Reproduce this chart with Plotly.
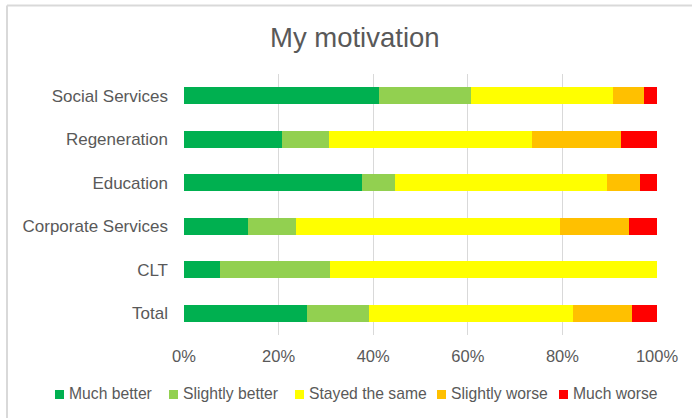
import plotly.graph_objects as go

categories = ["Social Services", "Regeneration", "Education", "Corporate Services", "CLT", "Total"]
much_better = [41.3, 20.8, 37.7, 13.5, 7.7, 26.1]
slightly_better = [19.3, 9.8, 7.0, 10.1, 23.1, 13.1]
stayed_same = [30.2, 43.0, 44.8, 55.9, 69.2, 43.1]
slightly_worse = [6.4, 18.7, 7.0, 14.6, 0.0, 12.5]
much_worse = [2.8, 7.7, 3.5, 5.9, 0.0, 5.2]

series_names = ["Much better", "Slightly better", "Stayed the same", "Slightly worse", "Much worse"]
series_values = [much_better, slightly_better, stayed_same, slightly_worse, much_worse]
series_colors = ["#00b050", "#92d050", "#ffff00", "#ffc000", "#ff0000"]

font_family = "Liberation Sans, Arial, sans-serif"
W, H = 693, 418
ml, mr, mt, mb = 184, 36, 74, 83
pw, ph = W - ml - mr, H - mt - mb


def px_x(x):
    return (x - ml) / pw


def px_y(y):
    return (H - mb - y) / ph


fig = go.Figure()
for name, vals, col in zip(series_names, series_values, series_colors):
    fig.add_trace(go.Bar(
        y=categories, x=[v / 100 for v in vals], name=name, orientation="h",
        marker=dict(color=col, line=dict(width=0)), showlegend=False,
    ))

# custom one-row legend (Excel style: small square + label)
legend_marker_x = [55, 169, 295, 437, 559]
shapes = [
    dict(type="line", xref="paper", yref="paper", x0=px_x(7), x1=px_x(7),
         y0=px_y(430), y1=px_y(5.5), line=dict(color="#d9d9d9", width=2)),
    dict(type="line", xref="paper", yref="paper", x0=px_x(7), x1=px_x(692),
         y0=px_y(5.5), y1=px_y(5.5), line=dict(color="#d9d9d9", width=2)),
]
annotations = []
for name, col, mx in zip(series_names, series_colors, legend_marker_x):
    shapes.append(dict(type="rect", xref="paper", yref="paper",
                       x0=px_x(mx), x1=px_x(mx + 9), y0=px_y(399), y1=px_y(390),
                       fillcolor=col, line=dict(width=0)))
    annotations.append(dict(text=name, xref="paper", yref="paper",
                            x=px_x(mx + 12), y=px_y(393.5), xanchor="left",
                            yanchor="middle", showarrow=False,
                            font=dict(size=15.7, color="#595959", family=font_family)))

fig.update_layout(
    width=W, height=H,
    barmode="stack", bargap=0.61,
    margin=dict(l=ml, r=mr, t=mt, b=mb, autoexpand=False),
    paper_bgcolor="white", plot_bgcolor="white",
    font=dict(family=font_family, color="#595959"),
    showlegend=False,
    title=dict(text="My motivation", x=0.512, xanchor="center", y=1 - 37 / H,
               yanchor="middle", yref="container",
               font=dict(size=27.5, color="#595959", family=font_family)),
    xaxis=dict(range=[0, 1], tickvals=[0, 0.2, 0.4, 0.6, 0.8, 1.0],
               tickformat=".0%", showgrid=True, gridcolor="#d9d9d9", gridwidth=1,
               zeroline=False, showline=False, ticks="", ticklabelstandoff=9,
               tickangle=0, automargin=False,
               tickfont=dict(size=16.5, color="#595959"), fixedrange=True),
    yaxis=dict(autorange="reversed", showgrid=False, zeroline=False, showline=False,
               ticks="", ticklabelstandoff=15, automargin=False,
               tickfont=dict(size=17, color="#595959")),
    shapes=shapes,
    annotations=annotations,
)

fig.write_html("out.html", config={"displayModeBar": False},
               post_script="document.body.style.margin='0';")
